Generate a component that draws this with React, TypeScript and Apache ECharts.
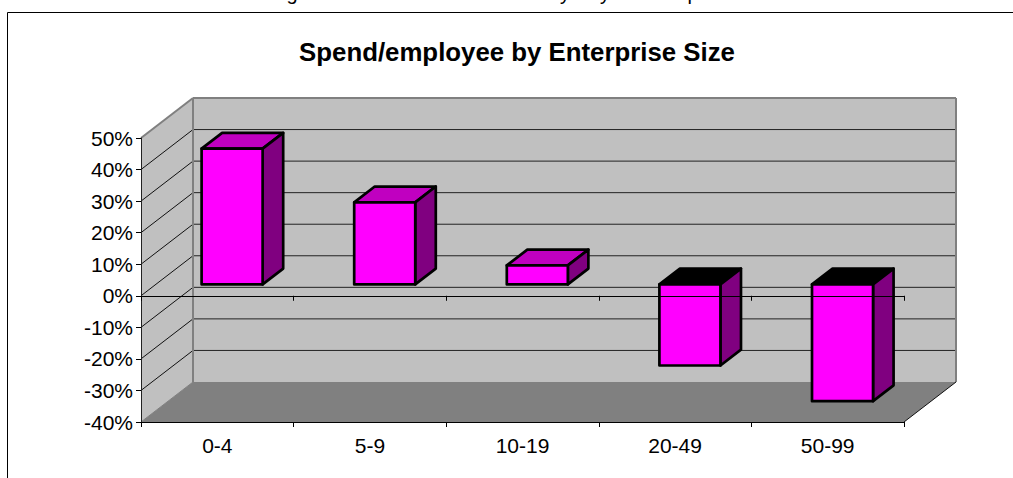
import React, { useEffect, useRef } from "react";
import * as echarts from "echarts";

const categories = ["0-4", "5-9", "10-19", "20-49", "50-99"];
const spendChange = [43, 26, 6, -25.7, -37];
const axisMin = -40;
const axisMax = 50;
const axisStep = 10;
const wallTicks = [50, 40, 30, 20, 10, 0, -10, -20, -30, -40];
const chartTitle = "Spend/employee by Enterprise Size";
const headingGlyphs = [
  { ch: "g", x: 292 },
  { ch: "y", x: 565 },
  { ch: "y", x: 605 },
  { ch: "p", x: 693 },
];

const FONT = "'Liberation Sans', Arial, sans-serif";

// Oblique projection of the box: how far the back plane sits from the front plane.
const DEPTH_X = 52;
const DEPTH_Y = -40;
// Bars occupy a slab in the middle of the box depth.
const BAR_FRONT = 0.285;
const BAR_DEPTH = 0.395;
const BAR_WIDTH = 0.4;

const polygon = (points: number[][], fill: string, extra: any = {}) => ({
  type: "polygon",
  shape: { points },
  style: { fill, stroke: "none", ...extra },
  silent: true,
});

const segment = (a: number[], b: number[], stroke: string, lineWidth = 1) => ({
  type: "line",
  shape: { x1: a[0], y1: a[1], x2: b[0], y2: b[1] },
  style: { stroke, lineWidth },
  silent: true,
});

// Back wall, side wall and floor of the box, with their gridlines.
function renderWalls(_params: any, api: any) {
  const bottomLeft = api.coord([0, axisMin]);
  const topLeft = api.coord([0, axisMax]);
  const band = api.size([1, 0])[0];
  const x0 = bottomLeft[0] - band / 2;
  const x1 = x0 + band * categories.length;
  const back = (x: number, y: number) => [x + DEPTH_X, y + DEPTH_Y];
  const y0 = bottomLeft[1];
  const y1 = topLeft[1];
  const children: any[] = [
    polygon([back(x0, y1), back(x1, y1), back(x1, y0), back(x0, y0)], "#C0C0C0"),
    polygon([[x0, y1], back(x0, y1), back(x0, y0), [x0, y0]], "#C0C0C0"),
    polygon([[x0, y0], [x1, y0], back(x1, y0), back(x0, y0)], "#808080"),
  ];
  wallTicks.forEach((t) => {
    if (t === axisMin || t === axisMax) return;
    const y = api.coord([0, t])[1];
    children.push(segment([x0, y], back(x0, y), "#111", 1));
    children.push(segment(back(x0, y), back(x1, y), "#222", 1));
  });
  children.push(segment(back(x0, y1), back(x0, y0), "#808080", 2));
  children.push(segment(back(x1, y1), back(x1, y0), "#808080", 2));
  children.push(segment(back(x0, y1), back(x1, y1), "#808080", 2));
  children.push(segment([x0, y1], back(x0, y1), "#808080", 2));
  children.push(segment([x0, y0], back(x0, y0), "#808080", 1));
  children.push(segment([x1, y0], back(x1, y0), "#111", 1));
  return { type: "group", children };
}

// One prism per category, rising or hanging from the zero plane.
function renderBar(_params: any, api: any) {
  const index = api.value(0);
  const value = api.value(1);
  const band = api.size([1, 0])[0];
  const half = (band * BAR_WIDTH) / 2;
  const base = api.coord([index, 0]);
  const tip = api.coord([index, value]);
  const fx = DEPTH_X * BAR_FRONT;
  const fy = DEPTH_Y * BAR_FRONT;
  const dx = DEPTH_X * BAR_DEPTH;
  const dy = DEPTH_Y * BAR_DEPTH;
  const left = base[0] - half + fx;
  const right = base[0] + half + fx;
  const top = Math.min(base[1], tip[1]) + fy;
  const bottom = Math.max(base[1], tip[1]) + fy;
  const edge = { stroke: "#000", lineWidth: 2.7, lineJoin: "round" };
  return {
    type: "group",
    children: [
      polygon(
        [[left, top], [left + dx, top + dy], [right + dx, top + dy], [right, top]],
        value < 0 ? "#000000" : "#C000C0",
        edge
      ),
      polygon(
        [[right, top], [right + dx, top + dy], [right + dx, bottom + dy], [right, bottom]],
        "#800080",
        edge
      ),
      polygon([[left, top], [right, top], [right, bottom], [left, bottom]], "#FF00FF", edge),
    ],
  };
}

export default function App() {
  const ref = useRef<HTMLDivElement>(null);

  useEffect(() => {
    document.body.style.margin = "0";
    const chart = echarts.init(ref.current!, null, { renderer: "svg" });
    chart.setOption({
      animation: false,
      backgroundColor: "#fff",
      title: {
        text: chartTitle,
        left: 512,
        top: 34,
        textAlign: "center",
        textStyle: { fontFamily: FONT, fontSize: 25.8, fontWeight: "bold", color: "#000" },
      },
      grid: { left: 141, right: 109, top: 138, bottom: 56, containLabel: false },
      xAxis: [
        {
          type: "category",
          data: categories,
          position: "bottom",
          axisLine: { onZero: false, lineStyle: { color: "#000", width: 1 } },
          axisTick: { show: true, length: 5, alignWithLabel: false, lineStyle: { color: "#000" } },
          axisLabel: { fontFamily: FONT, fontSize: 21, color: "#000", margin: 13 },
          splitLine: { show: false },
          z: 3,
        },
        {
          type: "category",
          data: categories,
          position: "bottom",
          axisLine: { onZero: true, lineStyle: { color: "#000", width: 1 } },
          axisTick: { show: true, length: 5, lineStyle: { color: "#000" } },
          axisLabel: { show: false },
          splitLine: { show: false },
          z: 12,
        },
      ],
      yAxis: {
        type: "value",
        min: axisMin,
        max: axisMax,
        interval: axisStep,
        axisLine: { show: true, lineStyle: { color: "#222", width: 1 } },
        axisTick: { show: true, length: 5, lineStyle: { color: "#000" } },
        axisLabel: {
          fontFamily: FONT,
          fontSize: 21,
          color: "#000",
          margin: 8,
          formatter: (v: number) => `${v}%`,
        },
        splitLine: { show: false },
        z: 3,
      },
      series: [
        {
          type: "custom",
          coordinateSystem: "cartesian2d",
          renderItem: renderWalls,
          data: [[0, 0]],
          silent: true,
          z: 1,
          clip: false,
        },
        {
          type: "custom",
          coordinateSystem: "cartesian2d",
          renderItem: renderBar,
          data: spendChange.map((v, i) => [i, v]),
          encode: { x: 0, y: 1 },
          z: 5,
          clip: false,
        },
      ],
      graphic: [
        {
          type: "polyline",
          shape: { points: [[7.5, 478], [7.5, 12.5], [1013, 12.5]] },
          style: { stroke: "#000", lineWidth: 1, fill: "none" },
          silent: true,
          z: 20,
        },
        ...headingGlyphs.map((g) => ({
          type: "text",
          x: g.x,
          y: -17,
          silent: true,
          style: {
            text: g.ch,
            fontFamily: FONT,
            fontSize: 20,
            fill: "#000",
            textAlign: "center",
            textVerticalAlign: "top",
          },
        })),
      ],
    });
    return () => chart.dispose();
  }, []);

  return <div ref={ref} style={{ width: 1013, height: 478 }} />;
}
